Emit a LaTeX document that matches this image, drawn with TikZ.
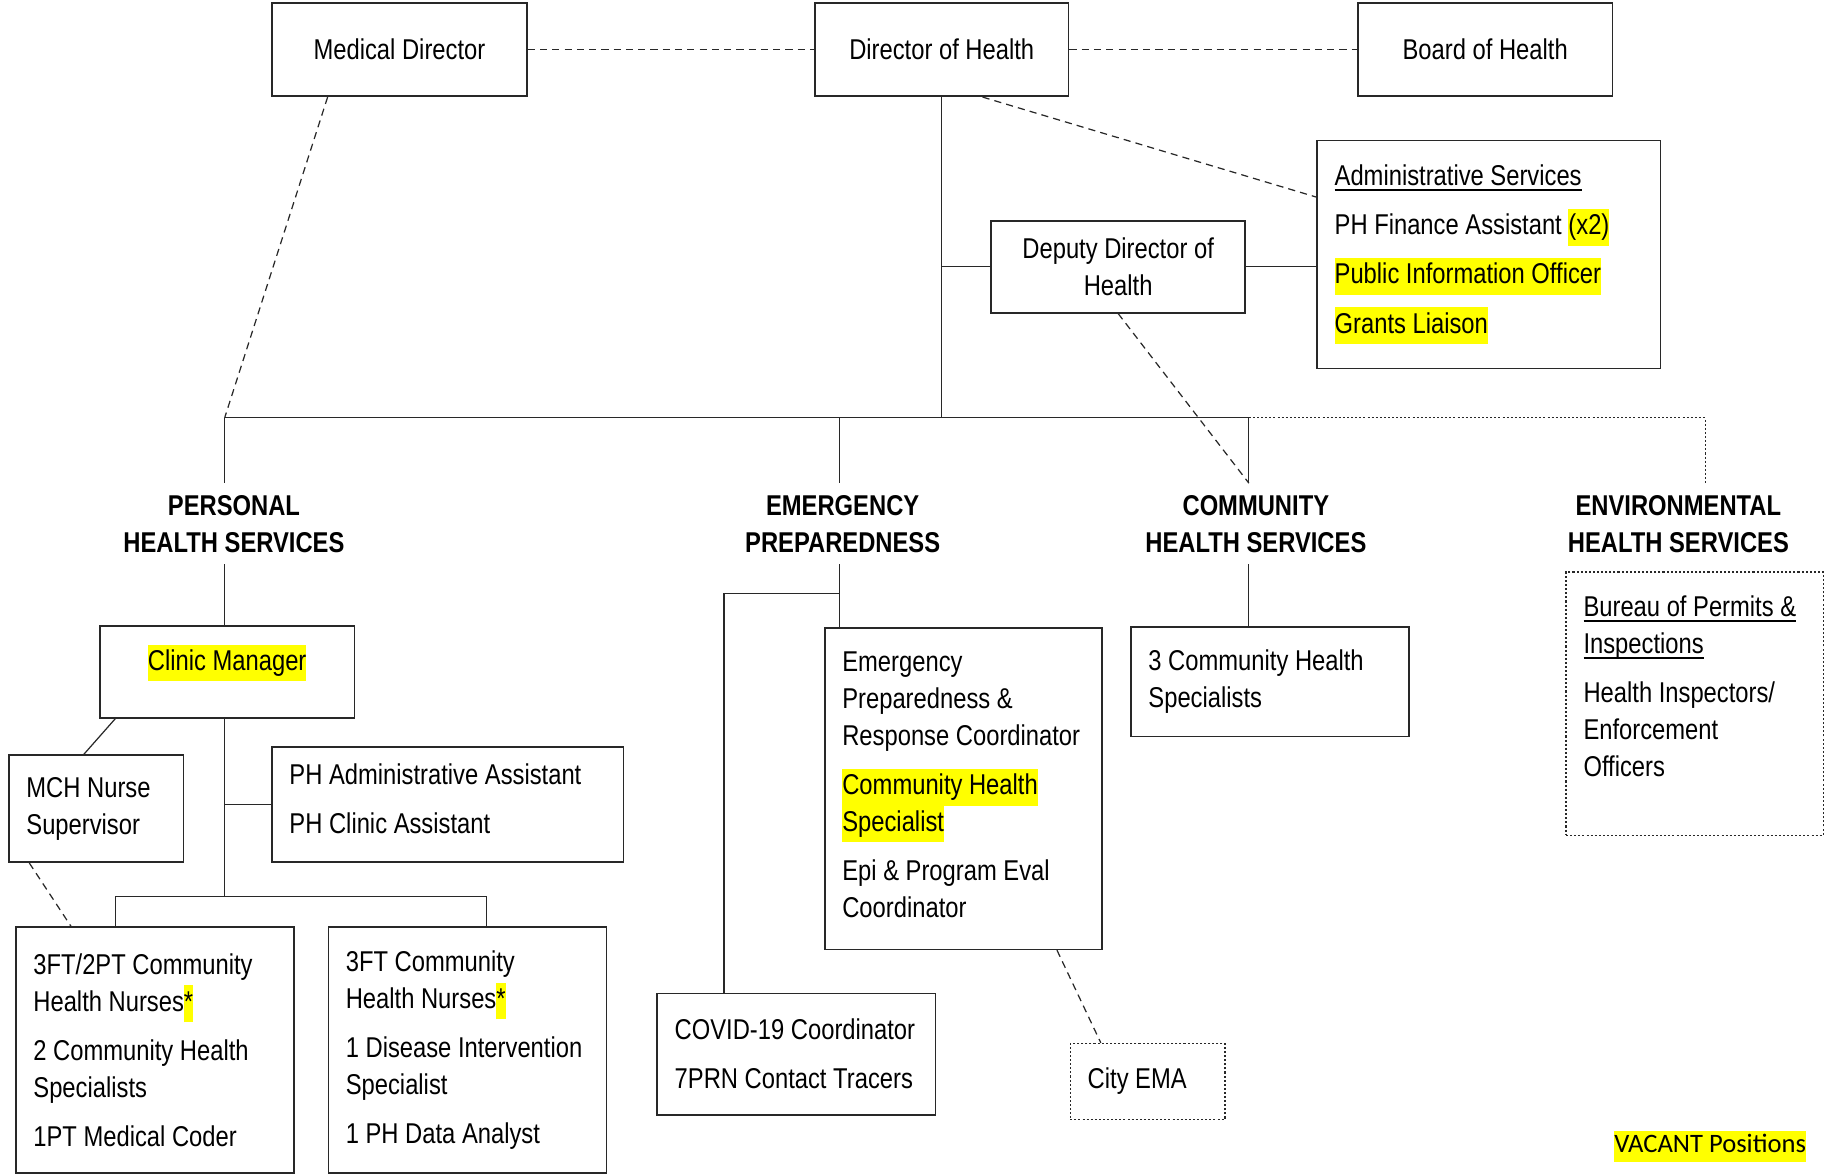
\documentclass[tikz,border=0pt]{standalone}
\usepackage{fontspec}
\setmainfont{Liberation Sans}[FakeStretch=0.83]
\newfontfamily\notefont{Carlito}
\usetikzlibrary{positioning}
\usetikzlibrary{calc}
\definecolor{vacantyellow}{RGB}{255,255,0}
\definecolor{chartline}{RGB}{40,40,40}
\newcommand{\chartfont}{\fontsize{14}{18}\selectfont}
\newcommand{\vacant}[1]{{\setlength{\fboxsep}{0pt}\colorbox{vacantyellow}{\strut #1}}}
\newcommand{\unitline}[1]{\leavevmode\setbox0\hbox{#1}\rlap{\rule[-2.6pt]{\wd0}{1pt}}\box0}
\tikzset{
  post/.style={draw=chartline, line width=0.8pt, inner sep=0pt, align=center, font=\chartfont},
  unit/.style={draw=chartline, line width=0.8pt, inner xsep=0.3cm, inner ysep=0pt,
    align=flush left, anchor=north west, font=\chartfont},
  outside/.style={unit, line width=0.6pt, dash pattern=on 1pt off 1pt},
  division/.style={inner sep=0.2cm, align=center, font=\chartfont\bfseries},
  link/.style={draw=chartline, line width=0.6pt},
  dashlink/.style={link, dash pattern=on 3.5pt off 2.5pt},
  dotlink/.style={link, dash pattern=on 1pt off 1pt},
}

\begin{document}
\begin{tikzpicture}[x=0.2mm, y=-0.2mm]
    \useasboundingbox (0,0) rectangle (1568,1008);

    \node[post, minimum width=4.38cm, minimum height=1.6cm, anchor=north west] (md) at (233,2) {Medical Director};
    \node[post, minimum width=4.36cm, minimum height=1.6cm, right=4.92cm of md] (doh) {Director of Health};
    \node[post, minimum width=4.38cm, minimum height=1.6cm, right=4.94cm of doh] (boh) {Board of Health};

    \node[unit, text width=5.3cm, minimum height=3.92cm] (adm) at (1131,120)
      {\unitline{Administrative Services}\\[6pt]
       PH Finance Assistant \vacant{(x2)}\\[6pt]
       \vacant{Public Information Officer}\\[6pt]
       \vacant{Grants Liaison}};
    \node[post, minimum width=4.36cm, minimum height=1.58cm, anchor=north west] (dep) at (851,189)
      {Deputy Director of\\Health};

    % divisions
    \node[division] (phs) at (201,450) {PERSONAL\\HEALTH SERVICES};
    \node[division] (ep) at (724,450) {EMERGENCY\\PREPAREDNESS};
    \node[division] (chs) at (1079,450) {COMMUNITY\\HEALTH SERVICES};
    \node[division] (ehs) at (1442,450) {ENVIRONMENTAL\\HEALTH SERVICES};

    % personal health services
    \node[post, minimum width=4.38cm, minimum height=1.58cm, anchor=north west, text depth=14pt] (clinic) at (85,537)
      {\vacant{Clinic Manager}};
    \node[unit, text width=2.4cm, minimum height=1.84cm] (mch) at (7,648) {MCH Nurse\\Supervisor};
    \node[unit, text width=5.44cm, minimum height=1.98cm] (phadm) at (233,641)
      {PH Administrative Assistant\\[6pt]PH Clinic Assistant\\[-12pt]\mbox{}};
    \node[unit, text width=4.18cm, minimum height=4.22cm] (cn1) at (13,796)
      {3FT/2PT Community\\Health Nurses\vacant{*}\\[6pt]
       2 Community Health\\Specialists\\[6pt]
       1PT Medical Coder};
    \node[unit, text width=4.18cm, minimum height=4.22cm, right=0.56cm of cn1] (cn2)
      {3FT Community\\Health Nurses\vacant{*}\\[6pt]
       1 Disease Intervention\\Specialist\\[6pt]
       1 PH Data Analyst};

    % emergency preparedness
    \node[unit, text width=4.16cm, minimum height=5.52cm] (epc) at (708,539)
      {Emergency\\Preparedness \&\\Response Coordinator\\[6pt]
       \vacant{Community Health}\\\vacant{Specialist}\\[6pt]
       Epi \& Program Eval\\Coordinator\\[-14pt]\mbox{}};
    \node[unit, text width=4.18cm, minimum height=2.08cm] (covid) at (564,853)
      {COVID-19 Coordinator\\[6pt]7PRN Contact Tracers};
    \node[outside, text width=2.06cm, minimum height=1.3cm] (ema) at (919,896) {City EMA};

    % community and environmental health
    \node[unit, text width=4.18cm, minimum height=1.88cm] (chsbox) at (971,538)
      {3 Community Health\\Specialists};
    \node[outside, text width=3.82cm, minimum height=4.52cm] (bureau) at (1345,491)
      {\unitline{Bureau of Permits \&}\\\unitline{Inspections}\\[6pt]
       Health Inspectors/\\Enforcement\\Officers\\[-1pt]\mbox{}};

    \node[anchor=east, inner sep=0pt, font=\notefont\fontsize{13}{15}\selectfont] (key) at (1552,985)
      {\vacant{VACANT Positions}};

    \coordinate (busL) at (193,359);
    \coordinate (busR) at (1073,359);
    \coordinate (busE) at (1465,359);
    \coordinate (epJ) at (721,510);
    \coordinate (covJ) at (622,510);
    \coordinate (clJ) at (193,770);
    \coordinate (cnL) at (99,770);
    \coordinate (cnR) at (418,770);

    \draw[dashlink] (md) -- (doh);
    \draw[dashlink] (doh) -- (boh);
    \draw[link] (doh.south) -- (doh.south |- busL);
    \draw[link] (busL) -- (busR);
    \draw[dotlink] (busR) -- (busE) -- (busE |- ehs.north);
    \draw[link] (dep.west) -- (dep.west -| doh.south);
    \draw[link] (dep.east) -- (dep.east -| adm.west);
    \draw[dashlink] ($(doh.south west)!0.66!(doh.south east)$) -- ($(adm.north west)!0.25!(adm.south west)$);
    \draw[dashlink] ($(md.south west)!0.22!(md.south east)$) -- (busL);
    \draw[dashlink] (dep.south) -- (busR |- chs.north);

    \draw[link] (busL) -- (busL |- phs.north);
    \draw[link] (phs.south -| busL) -- (busL |- clinic.north);
    \draw[link] (clinic.south -| busL) -- (clJ);
    \draw[link] (phadm.west -| busL) -- (phadm.west);
    \draw[link] (cnL |- cn1.north) -- (cnL) -- (cnR) -- (cnR |- cn2.north);
    \draw[link] ($(clinic.south west)!0.064!(clinic.south east)$) -- ($(mch.north west)!0.43!(mch.north east)$);
    \draw[dashlink] ($(mch.south west)!0.12!(mch.south east)$) -- ($(cn1.north west)!0.2!(cn1.north east)$);

    \draw[link] (epJ |- busL) -- (epJ |- ep.north);
    \draw[link] (ep.south -| epJ) -- (epJ |- epc.north);
    \draw[link] (epJ) -- (covJ) -- (covJ |- covid.north);
    \draw[dashlink] ($(epc.south west)!0.836!(epc.south east)$) -- ($(ema.north west)!0.2!(ema.north east)$);

    \draw[link] (busR) -- (busR |- chs.north);
    \draw[link] (chs.south -| busR) -- (busR |- chsbox.north);
\end{tikzpicture}
\end{document}
